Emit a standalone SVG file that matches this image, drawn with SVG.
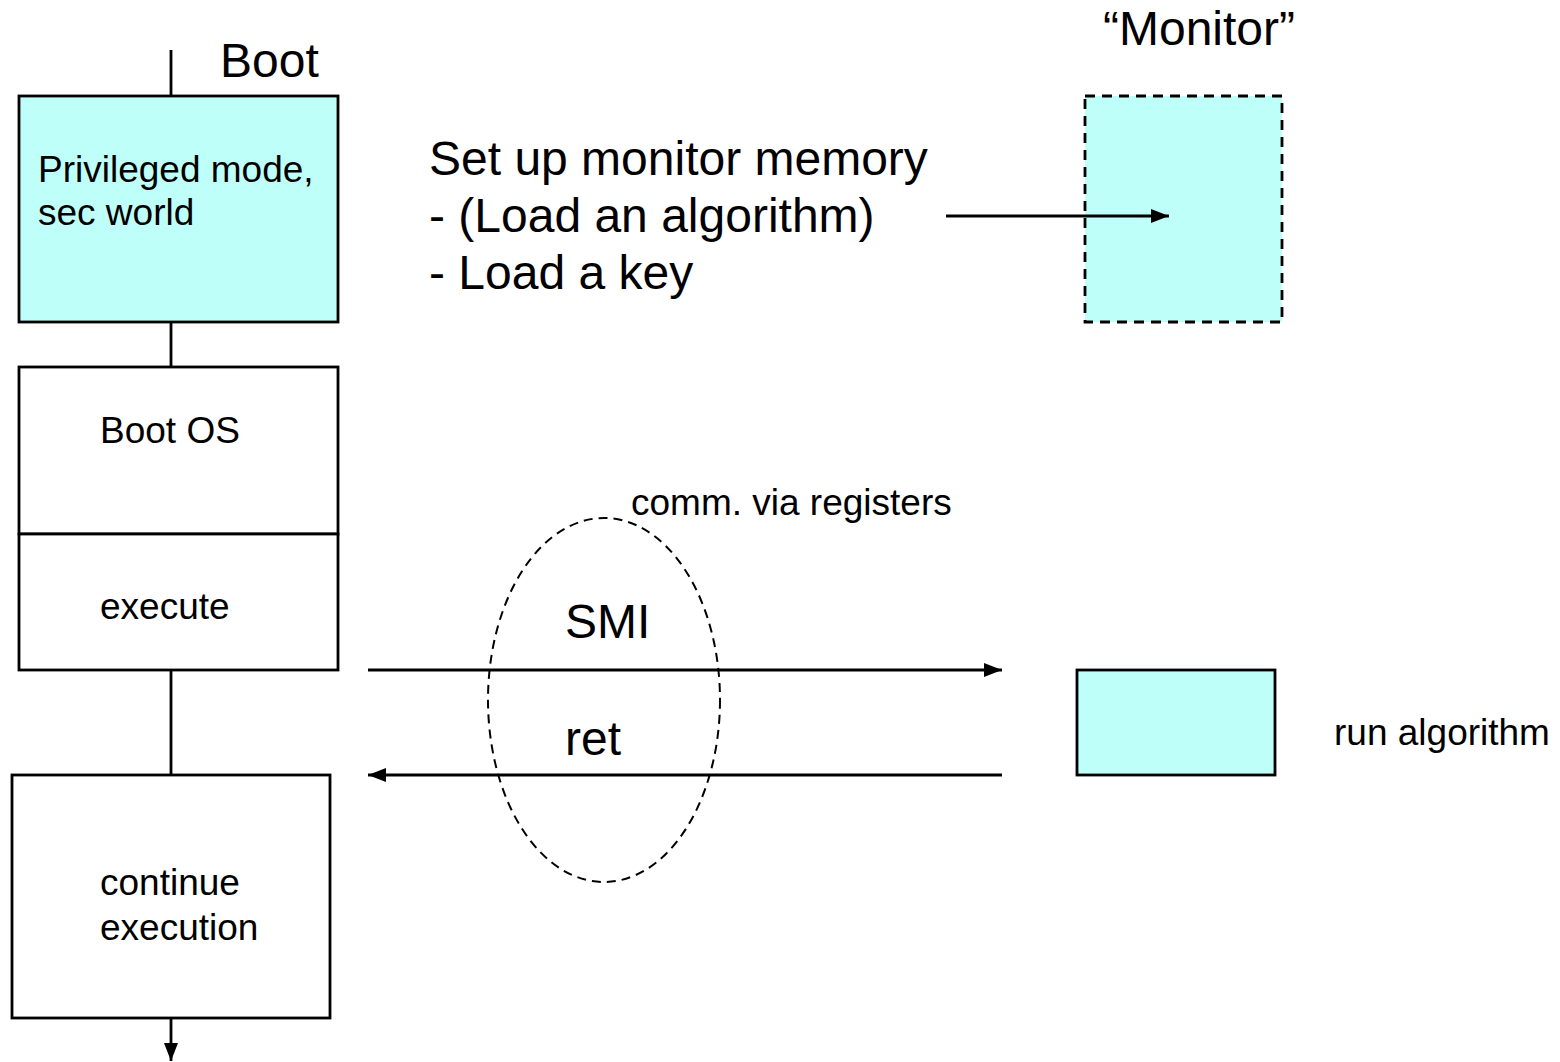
<svg xmlns="http://www.w3.org/2000/svg" width="1560" height="1062" viewBox="0 0 1560 1062">
  <style>
    .box { fill: #ffffff; stroke: #000000; stroke-width: 2.8; }
    .cyan { fill: #bffff9; }
    .dash { stroke-dasharray: 10 7; }
    .wire { stroke: #000000; stroke-width: 2.8; fill: none; }
    .t { font-family: "Liberation Sans", Arial, sans-serif; fill: #000000; }
    .s36 { font-size: 37px; }
    .s47 { font-size: 48px; }
  </style>
  <defs>
    <marker id="arrow" viewBox="0 0 18 14" refX="18" refY="7" markerWidth="18" markerHeight="14" markerUnits="userSpaceOnUse" orient="auto">
      <path d="M0,0 L18,7 L0,14 z" fill="#000000"/>
    </marker>
  </defs>

  <rect width="1560" height="1062" fill="#ffffff"/>

  <!-- secure boot stage -->
  <g id="node-privileged">
    <rect class="box cyan" x="19" y="96" width="319" height="226"/>
    <text class="t s36" x="38" y="182">Privileged mode,</text>
    <text class="t s36" x="38" y="225">sec world</text>
  </g>
  <text class="t s47" x="220" y="77">Boot</text>

  <g id="node-bootos">
    <rect class="box" x="19" y="367" width="319" height="167"/>
    <text class="t s36" x="100" y="443">Boot OS</text>
  </g>

  <g id="node-execute">
    <rect class="box" x="19" y="534" width="319" height="136"/>
    <text class="t s36" x="100" y="619">execute</text>
  </g>

  <g id="node-continue">
    <rect class="box" x="12" y="775" width="318" height="243"/>
    <text class="t s36" x="100" y="895">continue</text>
    <text class="t s36" x="100" y="940">execution</text>
  </g>

  <!-- setup notes -->
  <g id="note-setup">
    <text class="t s47" x="429" y="175">Set up monitor memory</text>
    <text class="t s47" x="429" y="232">- (Load an algorithm)</text>
    <text class="t s47" x="429" y="289">- Load a key</text>
  </g>

  <!-- monitor memory -->
  <g id="node-monitor">
    <rect class="box cyan dash" x="1085" y="96" width="197" height="226"/>
    <text class="t s47" x="1103" y="45">“Monitor”</text>
  </g>

  <!-- register channel -->
  <g id="node-channel">
    <ellipse cx="604" cy="700" rx="116" ry="182" fill="none" stroke="#000000" stroke-width="2" stroke-dasharray="9 6"/>
    <text class="t s36" x="631" y="515">comm. via registers</text>
    <text class="t s47" x="565" y="638">SMI</text>
    <text class="t s47" x="565" y="755">ret</text>
  </g>

  <g id="node-run">
    <rect class="box cyan" x="1077" y="670" width="198" height="105"/>
    <text class="t s36" x="1334" y="745">run algorithm</text>
  </g>

  <!-- connectors -->
  <g id="connectors">
    <line class="wire" x1="171" y1="50" x2="171" y2="96"/>
    <line class="wire" x1="171" y1="322" x2="171" y2="367"/>
    <line class="wire" x1="171" y1="670" x2="171" y2="775"/>
    <line class="wire" x1="171" y1="1018" x2="171" y2="1061" marker-end="url(#arrow)"/>
    <line class="wire" x1="946" y1="216" x2="1169" y2="216" marker-end="url(#arrow)"/>
    <line class="wire" x1="368" y1="670" x2="1002" y2="670" marker-end="url(#arrow)"/>
    <line class="wire" x1="1002" y1="775" x2="368" y2="775" marker-end="url(#arrow)"/>
  </g>
</svg>
